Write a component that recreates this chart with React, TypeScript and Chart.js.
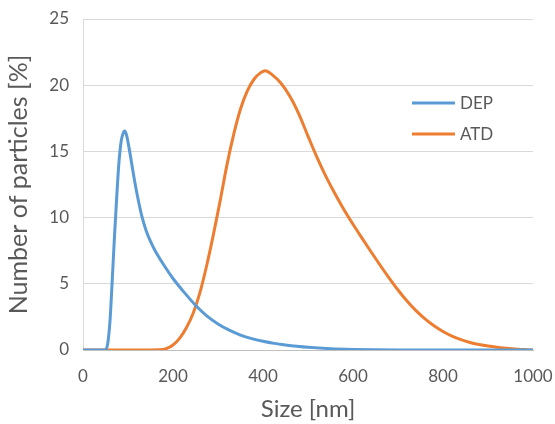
import React, { useEffect, useRef } from "react";
import { Chart, registerables } from "chart.js";

Chart.register(...registerables);

const depSizes = [0, 40, 50, 55, 60, 65, 70, 75, 80, 85, 90, 93, 97, 100, 105, 110, 115, 120, 130, 140, 150, 160, 180, 200, 225, 250, 275, 300, 325, 350, 375, 400, 425, 450, 475, 500, 550, 600, 650, 700, 800, 900, 1000];
const depValues = [0, 0, 0, 0.5, 2.2, 5.3, 8.6, 11.6, 14.2, 15.8, 16.45, 16.55, 16.2, 15.7, 14.75, 13.7, 12.7, 11.8, 10.2, 9.05, 8.2, 7.52, 6.4, 5.4, 4.35, 3.38, 2.58, 1.97, 1.5, 1.13, 0.86, 0.66, 0.5, 0.38, 0.28, 0.2, 0.1, 0.045, 0.015, 0, 0, 0, 0];

const atdSizes = [0, 50, 100, 150, 170, 185, 200, 215, 230, 245, 260, 275, 290, 305, 320, 335, 350, 365, 380, 395, 405, 420, 440, 460, 480, 500, 520, 540, 560, 580, 600, 620, 640, 660, 680, 700, 720, 740, 760, 780, 800, 820, 840, 860, 880, 900, 920, 940, 960, 980, 1000];
const atdValues = [0, 0, 0, 0, 0.01, 0.1, 0.38, 0.9, 1.7, 2.8, 4.35, 6.4, 8.75, 11.3, 14.0, 16.3, 18.2, 19.55, 20.45, 20.95, 21.1, 20.8, 20.15, 19.15, 17.8, 16.15, 14.55, 13.1, 11.8, 10.6, 9.5, 8.45, 7.42, 6.42, 5.45, 4.53, 3.7, 2.97, 2.35, 1.83, 1.4, 1.05, 0.78, 0.57, 0.42, 0.3, 0.21, 0.14, 0.08, 0.03, 0];

const seriesLabels = ["DEP", "ATD"];
const seriesColors = ["#5B9BD5", "#ED7D31"];
const xTitle = "Size [nm]";
const yTitle = "Number of particles [%]";

const FONT = "Lato, 'Open Sans', sans-serif";
const TEXT = "#595959";

const legendPlugin = {
  id: "insideLegend",
  afterDraw(chart: any) {
    const ctx = chart.ctx;
    ctx.save();
    ctx.font = `17px ${FONT}`;
    ctx.textBaseline = "middle";
    ctx.textAlign = "left";
    const ys = [103, 134];
    chart.data.datasets.forEach((ds: any, i: number) => {
      const y = ys[i];
      ctx.strokeStyle = ds.borderColor;
      ctx.lineWidth = 3;
      ctx.beginPath();
      ctx.moveTo(412, y);
      ctx.lineTo(455, y);
      ctx.stroke();
      ctx.fillStyle = TEXT;
      ctx.fillText(ds.label, 460, y + 1);
    });
    ctx.restore();
  },
};

export default function App() {
  const ref = useRef<HTMLCanvasElement>(null);
  useEffect(() => {
    const toPts = (xs: number[], ys: number[]) => xs.map((x, i) => ({ x, y: ys[i] }));
    const chart = new Chart(ref.current!, {
      type: "line",
      data: {
        datasets: [
          {
            label: seriesLabels[0],
            data: toPts(depSizes, depValues),
            borderColor: seriesColors[0],
            backgroundColor: seriesColors[0],
            borderWidth: 3,
            pointRadius: 0,
            cubicInterpolationMode: "monotone",
          },
          {
            label: seriesLabels[1],
            data: toPts(atdSizes, atdValues),
            borderColor: seriesColors[1],
            backgroundColor: seriesColors[1],
            borderWidth: 3,
            pointRadius: 0,
            cubicInterpolationMode: "monotone",
          },
        ],
      },
      options: {
        responsive: false,
        animation: false,
        layout: { padding: { top: 19, right: 22, left: 0, bottom: 0 } },
        plugins: { legend: { display: false }, tooltip: { enabled: false } },
        scales: {
          x: {
            type: "linear",
            min: 0,
            max: 1000,
            afterFit: (s: any) => { s.height = 74; s.paddingLeft = 0; s.paddingRight = 0; },
            ticks: { stepSize: 200, color: TEXT, font: { family: FONT, size: 17 }, padding: 16, maxRotation: 0, callback: (v: any) => String(v) },
            grid: { display: false, drawTicks: false },
            border: { color: "#BFBFBF", width: 1 },
            title: { display: true, text: xTitle, color: TEXT, font: { family: FONT, size: 24 }, padding: { top: 0, bottom: 0 } },
          },
          y: {
            min: 0,
            max: 25,
            afterFit: (s: any) => { s.width = 83; s.paddingTop = 0; s.paddingBottom = 0; },
            ticks: { stepSize: 5, color: TEXT, font: { family: FONT, size: 17 }, padding: 14 },
            grid: { color: "#D9D9D9", drawTicks: false, lineWidth: 1 },
            border: { color: "#D9D9D9", width: 1 },
            title: { display: true, text: yTitle, color: TEXT, font: { family: FONT, size: 25 }, padding: { top: 4, bottom: 0 } },
          },
        },
      },
      plugins: [legendPlugin],
    } as any);
    return () => chart.destroy();
  }, []);
  return (
    <div style={{ position: "fixed", left: 0, top: 0, width: 555, height: 424, background: "#fff" }}>
      <canvas ref={ref} width={555} height={424} />
    </div>
  );
}
